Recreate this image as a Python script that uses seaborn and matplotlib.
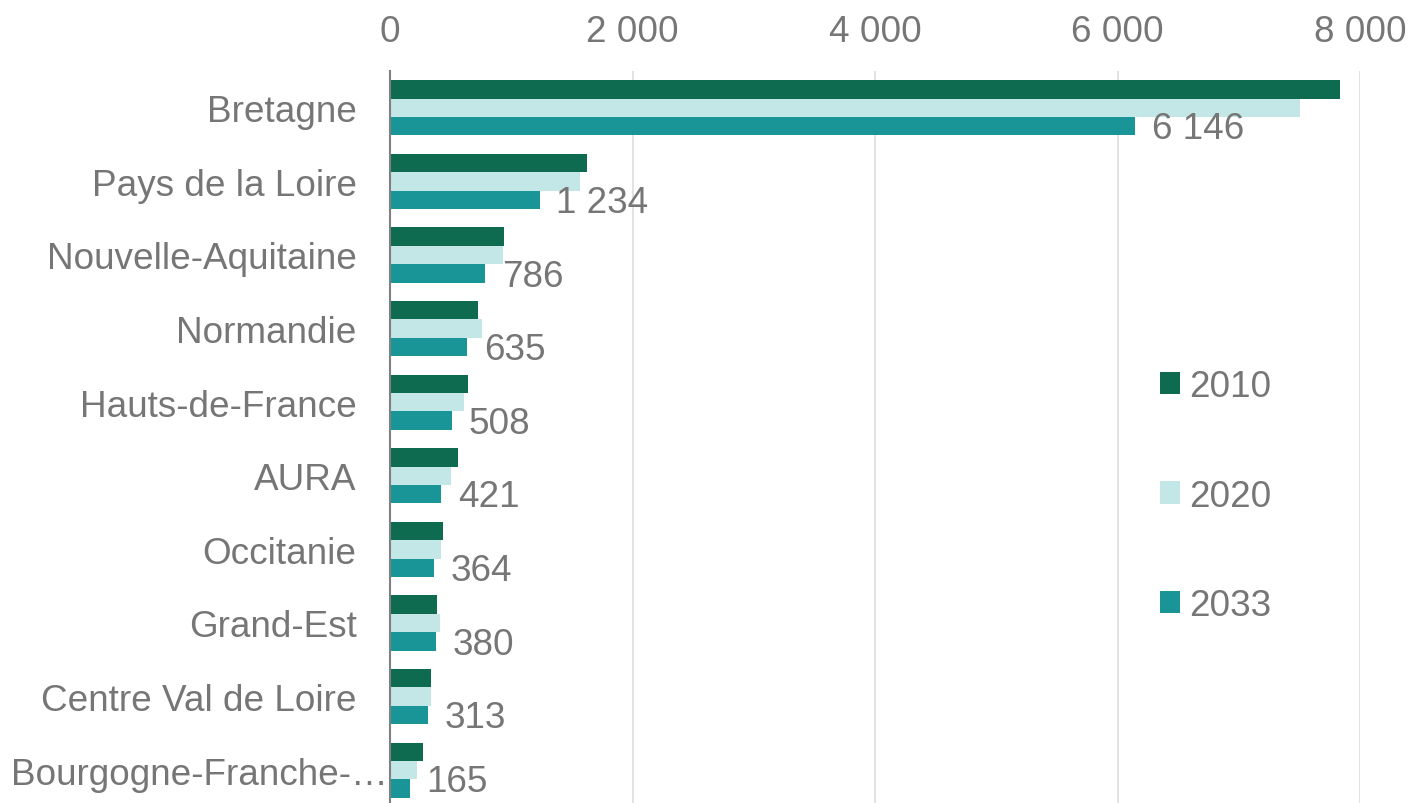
import matplotlib
matplotlib.use("Agg")
import matplotlib.pyplot as plt
import matplotlib.transforms as mtransforms
import seaborn as sns
import pandas as pd
from matplotlib.patches import Patch
from matplotlib.ticker import FuncFormatter

regions = ["Bretagne", "Pays de la Loire", "Nouvelle-Aquitaine", "Normandie",
           "Hauts-de-France", "AURA", "Occitanie", "Grand-Est",
           "Centre Val de Loire", "Bourgogne-Franche-…"]
years = ["2010", "2020", "2033"]
v2010 = [7835, 1621, 938, 724, 642, 557, 436, 387, 337, 269]
v2020 = [7506, 1564, 930, 757, 609, 502, 420, 409, 337, 222]
v2033 = [6146, 1234, 786, 635, 508, 421, 364, 380, 313, 165]
colors = ["#0E6B50", "#C3E6E6", "#1A9597"]
xticks = [0, 2000, 4000, 6000, 8000]

rows = []
for y, vals in zip(years, [v2010, v2020, v2033]):
    for r, v in zip(regions, vals):
        rows.append({"region": r, "year": y, "value": v})
df = pd.DataFrame(rows)

sns.set_theme(style="white")
plt.rcParams["font.family"] = ["Liberation Sans", "DejaVu Sans"]
GRAY = "#767676"
FS = 26.6

fig = plt.figure(figsize=(14.11, 8.04), dpi=100)
ax = fig.add_axes([390/1411, -4/804, (1360-390)/1411, (804+4-72)/804])

sns.barplot(data=df, y="region", x="value", hue="year", order=regions,
            hue_order=years, palette=colors, orient="h", width=0.75,
            gap=0, linewidth=0, saturation=1, ax=ax, legend=False)

ax.set_xlim(0, 8000)
ax.set_ylim(len(regions) - 0.5, -0.5)
ax.set_xticks(xticks)
ax.xaxis.set_major_formatter(FuncFormatter(lambda v, p: f"{int(v):,}".replace(",", " ")))
ax.xaxis.tick_top()
ax.tick_params(axis="x", length=0, pad=16, labelsize=FS, labelcolor=GRAY)
ax.tick_params(axis="y", length=0, pad=24, labelsize=FS, labelcolor=GRAY)
ax.set_xlabel("")
ax.set_ylabel("")
ax.grid(axis="x", color="#DDDDDD", linewidth=1.2)
ax.set_axisbelow(True)
for s in ["top", "right", "bottom"]:
    ax.spines[s].set_visible(False)
ax.spines["left"].set_color("#808080")
ax.spines["left"].set_linewidth(1.5)
ax.spines["left"].set_zorder(5)

# truncated last category label reaches closer to the axis
last = ax.get_yticklabels()[-1]
last.set_transform(last.get_transform() +
                   mtransforms.ScaledTranslation(31/100, 0, fig.dpi_scale_trans))

# data labels for 2033
cont = ax.containers[2]
anns = []
for bar, v in zip(cont, v2033):
    a = ax.annotate(f"{v:,}".replace(",", " "),
                    xy=(bar.get_x() + bar.get_width(), bar.get_y() + bar.get_height() / 2),
                    xytext=(12, -2), textcoords="offset points",
                    ha="left", va="center", fontsize=FS, color=GRAY,
                    annotation_clip=False)
    anns.append(a)

handles = [Patch(facecolor=c, edgecolor="none") for c in colors]
fig.legend(handles, years, loc="upper left",
           bbox_to_anchor=(1160/1411, 1 - 370/804), frameon=False,
           fontsize=FS, labelcolor=GRAY, handlelength=0.55, handleheight=0.55,
           handletextpad=0.25, labelspacing=2.02, borderpad=0, borderaxespad=0)

# keep data labels inside the figure
fig.canvas.draw()
r = fig.canvas.get_renderer()
for a in anns:
    bb = a.get_window_extent(r)
    if bb.y0 < 4:
        x, y = a.xyann
        a.xyann = (x, y + (4 - bb.y0) * 72 / fig.dpi)

fig.savefig("out.png", dpi=100)
